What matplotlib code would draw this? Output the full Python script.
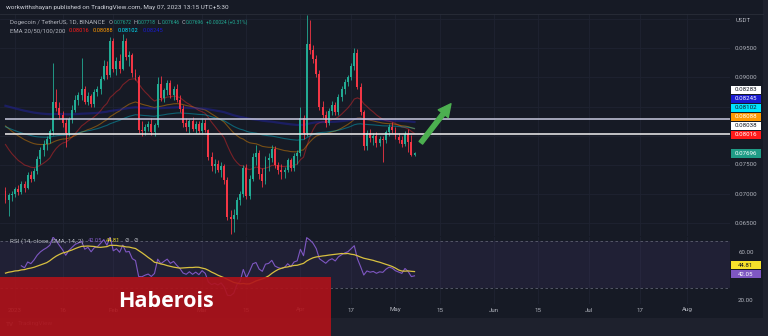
import numpy as np
import pandas as pd
import matplotlib
matplotlib.use("Agg")
import matplotlib.pyplot as plt
import matplotlib.dates as mdates
import matplotlib.transforms as mtrans
from matplotlib.patches import Rectangle

plt.rcParams["font.family"] = ["Roboto", "DejaVu Sans"]

# ---------------- data: DOGE/USDT daily candles ----------------
dates = pd.date_range("2022-12-29", "2023-05-07", freq="D")

opens = [0.0705, 0.0690, 0.0698, 0.0700, 0.0708, 0.0703, 0.0718, 0.0710, 0.0732, 0.0726,
         0.0740, 0.0760, 0.0775, 0.0786, 0.0795, 0.0808, 0.0858, 0.0848, 0.0835, 0.0822,
         0.0805, 0.0828, 0.0845, 0.0862, 0.0870, 0.0880, 0.0858, 0.0868, 0.0855, 0.0875,
         0.0880, 0.0898, 0.0920, 0.0905, 0.0962, 0.0915, 0.0928, 0.0915, 0.0962, 0.0935,
         0.0938, 0.0908, 0.0900, 0.0810, 0.0808, 0.0815, 0.0820, 0.0806, 0.0818, 0.0888,
         0.0865, 0.0878, 0.0890, 0.0870, 0.0880, 0.0862, 0.0846, 0.0822, 0.0815, 0.0825,
         0.0812, 0.0820, 0.0808, 0.0822, 0.0810, 0.0764, 0.0748, 0.0752, 0.0742, 0.0748,
         0.0724, 0.0660, 0.0657, 0.0664, 0.0690, 0.0700, 0.0744, 0.0697, 0.0726, 0.0763,
         0.0770, 0.0735, 0.0722, 0.0758, 0.0762, 0.0778, 0.0750, 0.0742, 0.0738, 0.0742,
         0.0758, 0.0745, 0.0765, 0.0770, 0.0830, 0.0805, 0.0958, 0.0947, 0.0932, 0.0906,
         0.0850, 0.0836, 0.0822, 0.0842, 0.0852, 0.0840, 0.0866, 0.0880, 0.0892, 0.0900,
         0.0920, 0.0942, 0.0884, 0.0840, 0.0782, 0.0805, 0.0796, 0.0800, 0.0788, 0.0795,
         0.0792, 0.0806, 0.0815, 0.0810, 0.0798, 0.0792, 0.0786, 0.0803, 0.0790, 0.07672]
highs = [0.0712, 0.0702, 0.0706, 0.0712, 0.0715, 0.0722, 0.0722, 0.0738, 0.0740, 0.0745,
         0.0765, 0.0780, 0.0792, 0.0800, 0.0812, 0.0925, 0.0880, 0.0858, 0.0842, 0.0830,
         0.0832, 0.0852, 0.0870, 0.0875, 0.0933, 0.0885, 0.0875, 0.0872, 0.0880, 0.0885,
         0.0902, 0.0930, 0.0928, 0.0970, 0.0968, 0.0935, 0.0940, 0.0975, 0.0968, 0.0945,
         0.0942, 0.0915, 0.0905, 0.0825, 0.0820, 0.0825, 0.0830, 0.0822, 0.0900, 0.0902,
         0.0882, 0.0895, 0.0895, 0.0885, 0.0888, 0.0870, 0.0852, 0.0830, 0.0828, 0.0832,
         0.0825, 0.0826, 0.0830, 0.0828, 0.0812, 0.0772, 0.0760, 0.0758, 0.0755, 0.0752,
         0.0730, 0.0672, 0.0675, 0.0695, 0.0705, 0.0750, 0.0752, 0.0732, 0.0770, 0.0784,
         0.0775, 0.0745, 0.0765, 0.0770, 0.0785, 0.0782, 0.0755, 0.0752, 0.0746, 0.0762,
         0.0762, 0.0770, 0.0775, 0.0850, 0.0835, 0.1007, 0.0998, 0.0955, 0.0938, 0.0912,
         0.0860, 0.0842, 0.0848, 0.0860, 0.0858, 0.0872, 0.0885, 0.0898, 0.0905, 0.0925,
         0.0950, 0.0948, 0.0890, 0.0845, 0.0810, 0.0812, 0.0805, 0.0806, 0.0800, 0.0800,
         0.0810, 0.0820, 0.0823, 0.0815, 0.0805, 0.0800, 0.0808, 0.0812, 0.0802, 0.07718]
lows = [0.0685, 0.0662, 0.0688, 0.0695, 0.0698, 0.0700, 0.0704, 0.0708, 0.0720, 0.0722,
        0.0735, 0.0752, 0.0765, 0.0776, 0.0788, 0.0802, 0.0842, 0.0828, 0.0815, 0.0780,
        0.0800, 0.0822, 0.0840, 0.0852, 0.0862, 0.0855, 0.0852, 0.0850, 0.0850, 0.0868,
        0.0872, 0.0895, 0.0898, 0.0900, 0.0910, 0.0905, 0.0908, 0.0912, 0.0930, 0.0920,
        0.0900, 0.0895, 0.0805, 0.0800, 0.0802, 0.0808, 0.0802, 0.0800, 0.0815, 0.0860,
        0.0858, 0.0870, 0.0865, 0.0862, 0.0858, 0.0840, 0.0815, 0.0808, 0.0805, 0.0808,
        0.0805, 0.0805, 0.0804, 0.0806, 0.0758, 0.0740, 0.0736, 0.0738, 0.0730, 0.0718,
        0.0655, 0.0632, 0.0635, 0.0658, 0.0682, 0.0695, 0.0692, 0.0692, 0.0722, 0.0750,
        0.0725, 0.0712, 0.0718, 0.0740, 0.0755, 0.0745, 0.0735, 0.0725, 0.0728, 0.0738,
        0.0740, 0.0740, 0.0752, 0.0765, 0.0795, 0.0800, 0.0940, 0.0925, 0.0900, 0.0845,
        0.0830, 0.0815, 0.0818, 0.0835, 0.0835, 0.0835, 0.0860, 0.0872, 0.0885, 0.0895,
        0.0912, 0.0880, 0.0835, 0.0775, 0.0775, 0.0790, 0.0785, 0.0780, 0.0782, 0.0755,
        0.0788, 0.0800, 0.0805, 0.0795, 0.0788, 0.0780, 0.0782, 0.0772, 0.0765, 0.07646]
closes = [0.0690, 0.0698, 0.0700, 0.0708, 0.0703, 0.0718, 0.0710, 0.0732, 0.0726, 0.0740,
          0.0760, 0.0775, 0.0786, 0.0795, 0.0808, 0.0858, 0.0848, 0.0835, 0.0822, 0.0805,
          0.0828, 0.0845, 0.0862, 0.0870, 0.0880, 0.0858, 0.0868, 0.0855, 0.0875, 0.0880,
          0.0898, 0.0920, 0.0905, 0.0962, 0.0915, 0.0928, 0.0915, 0.0962, 0.0935, 0.0938,
          0.0908, 0.0900, 0.0810, 0.0808, 0.0815, 0.0820, 0.0806, 0.0818, 0.0888, 0.0865,
          0.0878, 0.0890, 0.0870, 0.0880, 0.0862, 0.0846, 0.0822, 0.0815, 0.0825, 0.0812,
          0.0820, 0.0808, 0.0822, 0.0810, 0.0764, 0.0748, 0.0752, 0.0742, 0.0748, 0.0724,
          0.0660, 0.0657, 0.0664, 0.0690, 0.0700, 0.0744, 0.0697, 0.0726, 0.0763, 0.0770,
          0.0735, 0.0722, 0.0758, 0.0762, 0.0778, 0.0750, 0.0742, 0.0738, 0.0742, 0.0758,
          0.0745, 0.0765, 0.0770, 0.0830, 0.0805, 0.0958, 0.0947, 0.0932, 0.0906, 0.0850,
          0.0836, 0.0822, 0.0842, 0.0852, 0.0840, 0.0866, 0.0880, 0.0892, 0.0900, 0.0920,
          0.0942, 0.0884, 0.0840, 0.0782, 0.0805, 0.0796, 0.0800, 0.0788, 0.0795, 0.0792,
          0.0806, 0.0815, 0.0810, 0.0798, 0.0792, 0.0786, 0.0803, 0.0790, 0.07672, 0.07696]

# EMA starting values at the first visible session (20/50/100/200)
ema_periods = [20, 50, 100, 200]
ema_seeds = [0.0795, 0.0822, 0.0818, 0.0853]
ema_last = ["0.08016", "0.08088", "0.08102", "0.08245"]

# RSI(14) Wilder averages carried in from the prior session
rsi_seed_gain, rsi_seed_loss = 0.0009, 0.0012
rsi_last, rsi_ma_last = "42.05", "44.81"

# horizontal levels drawn on the chart
levels = [0.08283, 0.08038]

price_ticks = [0.065, 0.070, 0.075, 0.090, 0.095]
rsi_ticks = [60, 20]
time_ticks = ["2023-01-01", "2023-01-16", "2023-02-01", "2023-03-01", "2023-03-15",
              "2023-04-01", "2023-04-17", "2023-05-01", "2023-05-15", "2023-06-01",
              "2023-06-15", "2023-07-01", "2023-07-17", "2023-08-01"]
time_labels = ["2023", "16", "Feb", "Mar", "15", "Apr", "17", "May", "15", "Jun",
               "15", "Jul", "17", "Aug"]

# arrow annotation (date, price)
arrow_tail = ("2023-05-09", 0.0788)
arrow_tip = ("2023-05-18 12:00", 0.0855)

# ---------------- styling ----------------
W, H = 768, 336
BG = "#161a25"
OUTER = "#1e212d"
GRID = "#1f2331"
TXT = "#b2b5be"
GREEN = "#22ab94"
RED = "#f23645"
EMA_COLORS = ["#ff1a1a", "#ff9800", "#00e5ff", "#1a1ad0"]
EMA_LINE = ["#ff2a2a", "#ff9800", "#00d8f0", "#2323b0"]
EMA_ALPHA = [0.42, 0.42, 0.38, 0.45]
EMA_LW = [0.8, 0.8, 0.8, 1.6]


def fx(px):
    return px / W


def fy(py):
    return 1 - py / H


def ema(vals, n, seed):
    a = 2.0 / (n + 1)
    e = seed
    out = []
    for v in vals:
        e = e + a * (v - e)
        out.append(e)
    return np.array(out)


def wilder_rsi(vals, n, g0, l0):
    ag, al = g0, l0
    out = []
    prev = None
    for v in vals:
        if prev is not None:
            ch = v - prev
            ag = (ag * (n - 1) + max(ch, 0)) / n
            al = (al * (n - 1) + max(-ch, 0)) / n
        prev = v
        out.append(100 - 100 / (1 + ag / al))
    return np.array(out)


o = np.array(opens)
h = np.array(highs)
l = np.array(lows)
c = np.array(closes)
x = mdates.date2num(dates)

emas = [ema(c, n, s) for n, s in zip(ema_periods, ema_seeds)]
rsi = wilder_rsi(c, 14, rsi_seed_gain, rsi_seed_loss)
rsi_ma = pd.Series(rsi).rolling(14, min_periods=1).mean().values

fig = plt.figure(figsize=(W / 100, H / 100), dpi=100)
fig.patch.set_facecolor(BG)
renderer = fig.canvas.get_renderer()

# outer strips and panel frame
fig.add_artist(Rectangle((0, 0), 1, fy(318), transform=fig.transFigure,
                         facecolor=OUTER, edgecolor="none", zorder=0))
fig.add_artist(Rectangle((fx(763), 0), 1 - fx(763), 1, transform=fig.transFigure,
                         facecolor=OUTER, edgecolor="none", zorder=0))
fig.add_artist(plt.Line2D([0, fx(763)], [fy(13.5), fy(13.5)], transform=fig.transFigure,
                          color="#2a2e39", lw=0.6))

x0 = mdates.date2num(pd.Timestamp("2023-01-01"))
xlim = (x0 - 4.73, x0 + 225.5)

ax_p = fig.add_axes([0, fy(236), fx(730), (236 - 14) / H])
ax_r = fig.add_axes([0, fy(304), fx(730), (304 - 237) / H])
for ax in (ax_p, ax_r):
    ax.set_facecolor("none")
    for s in ax.spines.values():
        s.set_visible(False)
    ax.set_xticks([])
    ax.set_yticks([])
    ax.set_xlim(*xlim)
    for t in time_ticks:
        ax.axvline(mdates.date2num(pd.Timestamp(t)), color=GRID, lw=0.6, zorder=0)

ax_p.set_ylim(0.06281, 0.10088)
ax_r.set_ylim(16.6, 73.6)

for p in [0.065, 0.070, 0.075, 0.080, 0.085, 0.090, 0.095, 0.100]:
    ax_p.axhline(p, color=GRID, lw=0.6, zorder=0)

# EMA lines
for e, col, a, lw in zip(emas, EMA_LINE, EMA_ALPHA, EMA_LW):
    ax_p.plot(x, e, color=col, alpha=a, lw=lw, zorder=2)

# candles
up = c >= o
cols = np.where(up, GREEN, RED)
ax_p.vlines(x, l, h, colors=cols, lw=0.6, zorder=3)
body_lo = np.minimum(o, c)
body_h = np.maximum(np.abs(c - o), 0.00012)
ax_p.bar(x, body_h, bottom=body_lo, width=0.62, color=cols, linewidth=0, zorder=4)

# horizontal levels
lvl_cols = ["#c9cbe0", "#f0f0f0"]
for lv, lc in zip(levels, lvl_cols):
    ax_p.hlines(lv, x[0], xlim[1], color=lc, lw=1.1, zorder=5)

# arrow
ax_p.annotate("", xy=(mdates.date2num(pd.Timestamp(arrow_tip[0])), arrow_tip[1]),
              xytext=(mdates.date2num(pd.Timestamp(arrow_tail[0])), arrow_tail[1]),
              arrowprops=dict(arrowstyle="simple,head_width=1.3,head_length=1.3,tail_width=0.45",
                              color="#4caf50", mutation_scale=7, shrinkA=0, shrinkB=0),
              zorder=6)

# RSI pane
ax_r.axhspan(30, 70, color="#7e57c2", alpha=0.1, lw=0)
for lv in (70, 30):
    ax_r.axhline(lv, color="#5d6070", lw=0.6, ls=(0, (3, 3)))
ax_r.plot(x[5:], rsi[5:], color="#7e57c2", lw=0.8, zorder=3)
ax_r.plot(x, rsi_ma, color="#d8c040", lw=0.9, zorder=4)

# ---------------- texts ----------------
FS = 4.4
fig.text(fx(6), fy(7.5), "workwithshayan published on TradingView.com, May 07, 2023 13:15 UTC+5:30",
         fontsize=4.6, color="#d1d4dc", va="center")


def pieces(y, x_start, items):
    """Lay out coloured text runs left to right on one line."""
    px = x_start
    for s, col, fs, gap in items:
        t = fig.text(fx(px), fy(y), s, fontsize=fs, color=col, va="center")
        bb = t.get_window_extent(renderer)
        px = bb.x1 + gap


VF = 3.6
pieces(22.5, 10, [("Dogecoin / TetherUS, 1D, BINANCE", TXT, 4.45, 4),
                  ("O", TXT, 4.1, 0.3), ("0.07672", GREEN, VF, 2.2),
                  ("H", TXT, 4.1, 0.3), ("0.07718", GREEN, VF, 2.2),
                  ("L", TXT, 4.1, 0.3), ("0.07646", GREEN, VF, 2.2),
                  ("C", TXT, 4.1, 0.3), ("0.07696", GREEN, VF, 2.2),
                  ("+0.00024 (+0.31%)", GREEN, VF, 0)])
pieces(31, 10, [("EMA 20/50/100/200", TXT, 4.3, 3),
                (ema_last[0], EMA_COLORS[0], 4.1, 4),
                (ema_last[1], EMA_COLORS[1], 4.1, 4),
                (ema_last[2], EMA_COLORS[2], 4.1, 4),
                (ema_last[3], EMA_COLORS[3], 4.1, 0)])
pieces(241, 10, [("RSI (14, close, SMA, 14, 2)", TXT, 4.55, 4),
                 (rsi_last, "#7e57c2", 4.1, 4),
                 (rsi_ma_last, "#f5e12b", 4.1, 4.5),
                 ("\u2298", TXT, 4.1, 4), ("\u2298", TXT, 4.1, 0)])

# right price scale
fig.text(fx(743), fy(20), "USDT", fontsize=FS, color=TXT, va="center", ha="center")


def py_of(ax, val):
    return H - ax.transData.transform((xlim[0], val))[1]


for p in price_ticks:
    fig.text(fx(746), fy(py_of(ax_p, p)), f"{p:.5f}", fontsize=FS, color=TXT,
             va="center", ha="center")
for r in rsi_ticks:
    fig.text(fx(746), fy(py_of(ax_r, r)), f"{r:.2f}", fontsize=FS, color=TXT,
             va="center", ha="center")


def value_box(ypx, label, bg, fg):
    fig.add_artist(Rectangle((fx(730.5), fy(ypx + 4.3)), fx(30.5), 8.6 / H,
                             transform=fig.transFigure, facecolor=bg, edgecolor="none", zorder=8))
    fig.text(fx(746), fy(ypx), label, fontsize=FS, color=fg, va="center", ha="center", zorder=9)


def stacked(ax, items, gap=9.0):
    ys = sorted([(py_of(ax, float(v)), v, bg, fg) for v, bg, fg in items], reverse=True)
    prev = None
    for y, v, bg, fg in ys:
        if prev is not None:
            y = min(y, prev - gap)
        value_box(y, v, bg, fg)
        prev = y


stacked(ax_p, [("0.08283", "#ffffff", "#131722"),
               (ema_last[3], "#1a1ad0", "#ffffff"),
               (ema_last[2], "#00e5ff", "#131722"),
               (ema_last[1], "#ff9800", "#ffffff"),
               ("0.08038", "#ffffff", "#131722"),
               (ema_last[0], "#ff1a1a", "#ffffff")])
stacked(ax_p, [("0.07696", "#1f9c86", "#ffffff")])
stacked(ax_r, [(rsi_ma_last, "#f5e12b", "#131722"),
               (rsi_last, "#7e57c2", "#ffffff")])

# time axis labels
tr = mtrans.blended_transform_factory(ax_r.transData, fig.transFigure)
for t, lab in zip(time_ticks, time_labels):
    fig.text(mdates.date2num(pd.Timestamp(t)), fy(310), lab, transform=tr, fontsize=FS,
             color=TXT, ha="center", va="center")

# platform mark
fig.text(fx(6), fy(324), "TV", fontsize=4.6, color="#787b86", fontweight="bold", va="center")
fig.text(fx(18), fy(324), "TradingView", fontsize=4.6, color="#787b86", va="center")

# banner
fig.add_artist(Rectangle((0, 0), fx(331), (336 - 277) / H, transform=fig.transFigure,
                         facecolor="#b0121a", edgecolor="none", alpha=0.9, zorder=20))
fig.text(fx(166), fy(301.5), "Haberois", fontsize=15.5, fontweight="bold", color="white",
         family="Open Sans", ha="center", va="center", zorder=21)

fig.savefig("out.png", dpi=100, facecolor=fig.get_facecolor())
